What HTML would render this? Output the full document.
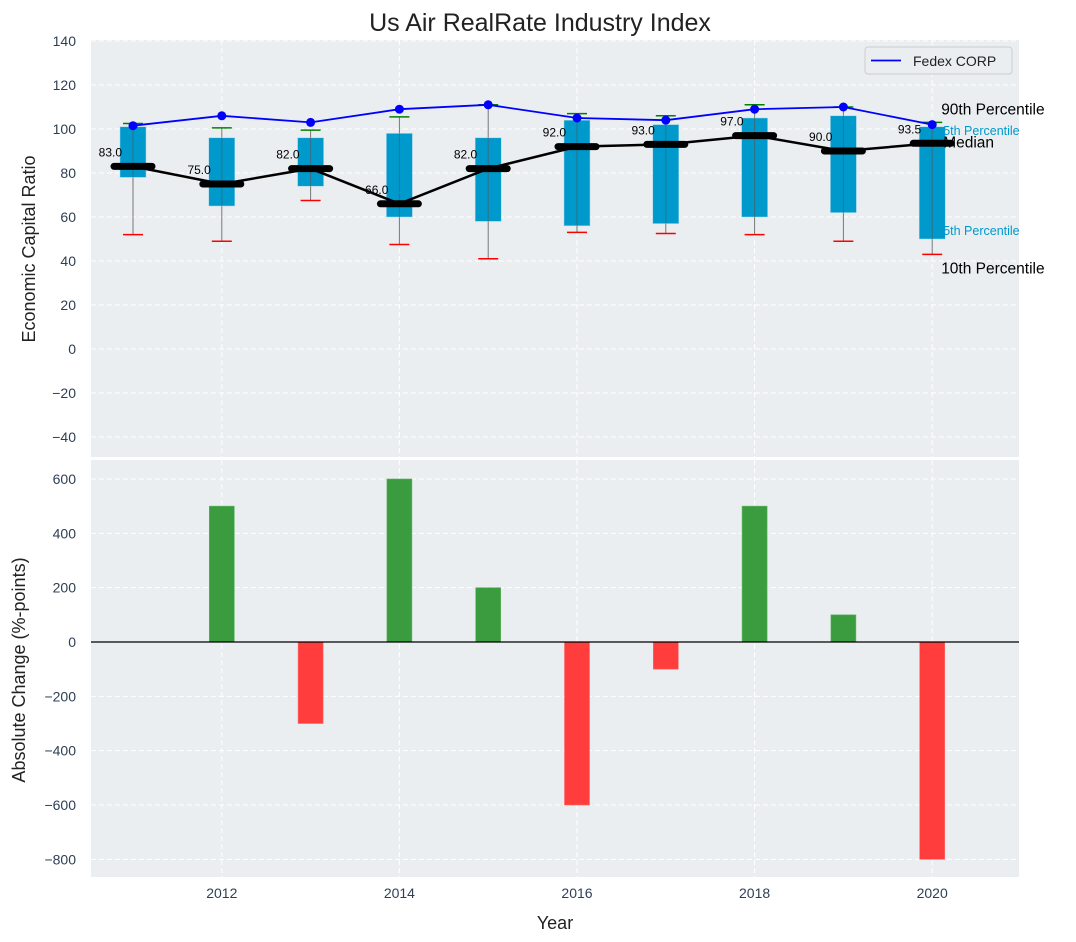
<!DOCTYPE html>
<html><head><meta charset="utf-8"><style>
body{margin:0;background:#fff;}
svg{display:block;font-family:"Liberation Sans","DejaVu Sans",sans-serif;}
</style></head><body>
<svg id="c" width="1076" height="942"></svg>
<script>
const years=[2011,2012,2013,2014,2015,2016,2017,2018,2019,2020];
const q3=[101,96,96,98,96,104,102,105,106,101];
const q1=[78,65,74,60,58,56,57,60,62,50];
const medians=[83,75,82,66,82,92,93,97,90,93.5];
const p90=[102.5,100.5,99.5,105.5,111,107,106,111,110,103];
const p10=[52,49,67.5,47.5,41,53,52.5,52,49,43];
const fedex=[101.5,106,103,109,111,105,104,109,110,102];
const changeYears=[2012,2013,2014,2015,2016,2017,2018,2019,2020];
const changes=[500,-300,600,200,-600,-100,500,100,-800];
const topTicks=[140,120,100,80,60,40,20,0,-20,-40];
const botTicks=[600,400,200,0,-200,-400,-600,-800];
const xTicks=[2012,2014,2016,2018,2020];

const NS="http://www.w3.org/2000/svg";
const svg=document.getElementById('c');
function el(t,a,txt,p){const e=document.createElementNS(NS,t);for(const k in a)e.setAttribute(k,a[k]);if(txt!==undefined)e.textContent=txt;(p||svg).appendChild(e);return e;}
const L=91,R=1019;
const x=v=>133+(v-2011)*88.8;
const yT=v=>349-v*2.2;
const yB=v=>642-v*0.2717;

let b=el('rect',{x:L,y:40,width:R-L,height:417,fill:'#eaeef0'});

b=el('rect',{x:L,y:460,width:R-L,height:417,fill:'#eaeef0'});


xTicks.forEach(t=>{
  el('line',{x1:x(t),x2:x(t),y1:40,y2:457,stroke:'#fff','stroke-dasharray':'5,3','stroke-width':1});
  el('line',{x1:x(t),x2:x(t),y1:460,y2:877,stroke:'#fff','stroke-dasharray':'5,3','stroke-width':1});
  const t1=el('text',{x:x(t),y:898,'text-anchor':'middle','font-size':14,fill:'#2e3f55'},String(t));
  
});
topTicks.forEach(t=>{
  el('line',{x1:L,x2:R,y1:yT(t),y2:yT(t),stroke:'#fff','stroke-dasharray':'5,3'});
  const e=el('text',{x:76,y:yT(t)+5,'text-anchor':'end','font-size':14,fill:'#2e3f55'},String(t).replace('-','\u2212'));
  
});
botTicks.forEach(t=>{
  el('line',{x1:L,x2:R,y1:yB(t),y2:yB(t),stroke:'#fff','stroke-dasharray':'5,3'});
  const e=el('text',{x:76,y:yB(t)+5,'text-anchor':'end','font-size':14,fill:'#2e3f55'},String(t).replace('-','\u2212'));
  
});

years.forEach((yr,i)=>{
  const cx=x(yr);
  let w=el('line',{x1:cx,x2:cx,y1:yT(p90[i]),y2:yT(p10[i]),stroke:'#777','stroke-width':1});
  
  let r=el('rect',{x:cx-13,y:yT(q3[i]),width:26,height:yT(q1[i])-yT(q3[i]),fill:'#0099cc',stroke:'#a8d8ea','stroke-width':0.5});
  
  el('line',{x1:cx,x2:cx,y1:yT(q3[i]),y2:yT(q1[i]),stroke:'#555','stroke-width':1,opacity:0.6});
  let g=el('line',{x1:cx-10,x2:cx+10,y1:yT(p90[i]),y2:yT(p90[i]),stroke:'green','stroke-width':1.5});
  
  let rd=el('line',{x1:cx-10,x2:cx+10,y1:yT(p10[i]),y2:yT(p10[i]),stroke:'red','stroke-width':1.5});
  
});
let mp=el('polyline',{points:years.map((y,i)=>x(y)+','+yT(medians[i])).join(' '),fill:'none',stroke:'#000','stroke-width':2.5});

years.forEach((yr,i)=>{
  const cx=x(yr);
  let m=el('line',{x1:cx-19,x2:cx+19,y1:yT(medians[i]),y2:yT(medians[i]),stroke:'#000','stroke-width':7,'stroke-linecap':'round'});
  
  let t=el('text',{x:cx-11,y:yT(medians[i])-10,'text-anchor':'end','font-size':12,fill:'#000'},medians[i].toFixed(1));
  
});
let fl=el('polyline',{points:years.map((y,i)=>x(y)+','+yT(fedex[i])).join(' '),fill:'none',stroke:'blue','stroke-width':1.8});

years.forEach((yr,i)=>{
  let c=el('circle',{cx:x(yr),cy:yT(fedex[i]),r:4.5,fill:'blue'});
  
});
const ax=x(2020);
[[ax+9,yT(p90[9])-8,'90th Percentile','#000',15.5,'annotation-90th'],
 [ax+11,yT(q3[9])+8,'5th Percentile','#0099cc',12.5,'annotation-95th'],
 [ax+11,yT(medians[9])+4,'Median','#000',15.5,'annotation-median'],
 [ax+11,yT(q1[9])-4,'5th Percentile','#0099cc',12.5,'annotation-25th'],
 [ax+9,yT(p10[9])+19,'10th Percentile','#000',15.5,'annotation-10th']].forEach(a=>{
  let t=el('text',{x:a[0],y:a[1],'font-size':a[4],fill:a[3]},a[2]);
  
});

const lg=el('g',{});

el('rect',{x:865,y:47,width:147,height:27,rx:3,fill:'#eaeef0',stroke:'#ccc'},undefined,lg);
el('line',{x1:871,x2:901,y1:60.5,y2:60.5,stroke:'blue','stroke-width':1.8},undefined,lg);
el('text',{x:913,y:66,'font-size':14,fill:'#222'},'Fedex CORP',lg);

changeYears.forEach((yr,i)=>{
  const v=changes[i];
  let r=el('rect',{x:x(yr)-12.5,y:Math.min(yB(v),yB(0)),width:25,height:Math.abs(yB(v)-yB(0)),fill:v>=0?'#3a9c3e':'#ff3d3d',stroke:v>=0?'#62b465':'#ff6a6a','stroke-width':0.6});
  
});
el('line',{x1:L,x2:R,y1:yB(0),y2:yB(0),stroke:'#000','stroke-width':1.2});

let tt=el('text',{x:540,y:31,'text-anchor':'middle','font-size':25,fill:'#222'},'Us Air RealRate Industry Index');

let yl=el('text',{x:0,y:0,'text-anchor':'middle','font-size':18,fill:'#222',transform:'translate(35,249) rotate(-90)'},'Economic Capital Ratio');

let yl2=el('text',{x:0,y:0,'text-anchor':'middle','font-size':18,fill:'#222',transform:'translate(25,670) rotate(-90)'},'Absolute Change (%-points)');

let xl=el('text',{x:555,y:929,'text-anchor':'middle','font-size':18,fill:'#222'},'Year');

</script>
</body></html>
